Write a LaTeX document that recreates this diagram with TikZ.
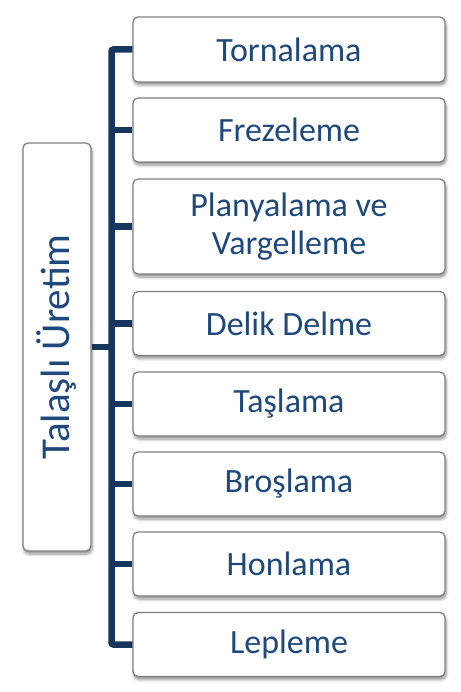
\documentclass[tikz,border=0pt]{standalone}
\usepackage{fontspec}
\setmainfont{Carlito}
\usetikzlibrary{shadows.blur}
\definecolor{txtblue}{RGB}{31,73,125}
\definecolor{linenavy}{RGB}{23,54,93}
\definecolor{boxgray}{RGB}{128,128,128}
\tikzset{
  itembox/.style={draw=boxgray, line width=1.3pt, fill=white, rounded corners=5pt,
    minimum width=312pt, inner sep=0pt, align=center, text=txtblue,
    font=\fontsize{34}{38}\selectfont,
    blur shadow={shadow xshift=1pt, shadow yshift=-3pt, shadow blur radius=3pt, shadow blur steps=6, shadow opacity=45}},
  rootbox/.style={draw=boxgray, line width=1.3pt, fill=white, rounded corners=5pt,
    minimum width=68pt, minimum height=408pt, inner sep=0pt,
    blur shadow={shadow xshift=1pt, shadow yshift=-3pt, shadow blur radius=3pt, shadow blur steps=6, shadow opacity=45}},
  roottxt/.style={rotate=90, text=txtblue, font=\fontsize{41}{46}\selectfont, inner sep=0pt},
  conn/.style={draw=linenavy, line width=6.5pt}
}
\begin{document}
\begin{tikzpicture}[x=1pt,y=-1pt]
\useasboundingbox (0,0) rectangle (460,692);
\coordinate (spinetop) at (111.5,49.5);
\coordinate (spinebot) at (111.5,644.5);
\node[rootbox] (root) at (57,347) {};
\node[itembox, minimum height=65pt] (t1) at (289,49.5) {Tornalama};
\node[itembox, minimum height=64pt] (t2) at (289,130) {Frezeleme};
\node[itembox, minimum height=95pt] (t3) at (289,226.5) {Planyalama ve\\Vargelleme};
\node[itembox, minimum height=64pt] (t4) at (289,323.5) {Delik Delme};
\node[itembox, minimum height=64pt] (t5) at (289,404) {Taşlama};
\node[itembox, minimum height=64pt] (t6) at (289,484) {Broşlama};
\node[itembox, minimum height=64pt] (t7) at (289,564) {Honlama};
\node[itembox, minimum height=64pt] (t8) at (289,644.5) {Lepleme};
\draw[conn, rounded corners=2pt] (t1.west) -- (spinetop) -- (spinebot) -- (t8.west);
\draw[conn] (root.east) -- (root.east -| spinetop);
\foreach \n in {t2,t3,t4,t5,t6,t7}{
  \draw[conn] (\n.west -| spinetop) -- (\n.west);
}
\node[roottxt] (roottext) at (root.center) {Talaşlı Üretim};
\end{tikzpicture}
\end{document}
